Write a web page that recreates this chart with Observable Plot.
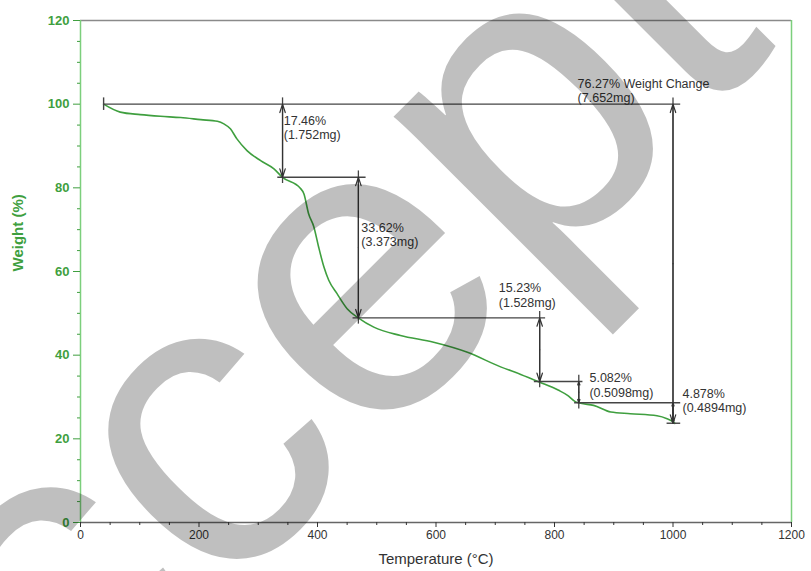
<!DOCTYPE html>
<html><head><meta charset="utf-8">
<script src="https://cdn.jsdelivr.net/npm/d3@7"></script>
<script src="https://cdn.jsdelivr.net/npm/@observablehq/plot@0.6"></script>
<style>
body{margin:0;background:#fff;}
#chart{width:811px;height:571px;overflow:hidden;}
</style></head><body><div id="chart"></div>
<script>
// TGA curve readings
const temperature = [39, 67, 101, 135, 169, 203, 231, 242, 253, 264, 281, 304, 326, 341, 371, 377, 385, 394, 402, 411, 419, 433, 450, 470, 495, 540, 596, 653, 709, 743, 774, 807, 822, 835, 844, 866, 895, 928, 973, 990, 1001, 1003];
const weight = [100, 98.1, 97.5, 97.1, 96.8, 96.3, 95.9, 95.3, 94.1, 91.7, 88.9, 86.5, 84.6, 82.5, 79.9, 78.6, 73.8, 70.6, 65.8, 61.0, 57.9, 54.7, 51.1, 48.8, 46.7, 44.7, 43.1, 40.7, 37.2, 35.4, 33.6, 31.6, 30.4, 28.9, 28.5, 28.0, 26.4, 26.0, 25.5, 24.8, 24.0, 23.7];

// horizontal guide lines
const guideLevel = [100, 82.54, 48.92, 33.69, 28.61, 23.73];
const guideStart = [39, 333, 460, 766, 834, 990];
const guideEnd = [1013, 482, 785, 848, 1013, 1013];

// vertical double arrows
const arrowTemp = [341, 469, 775, 841, 1000, 1000];
const arrowTop = [100, 82.54, 48.92, 33.69, 100, 28.61];
const arrowBottom = [82.54, 48.92, 33.69, 28.61, 23.73, 23.73];

// annotation labels
const labelTemp = [343, 474, 706, 859, 1016, 839];
const labelLevel = [94.4, 68.9, 54.4, 32.9, 29.2, 103.3];
const labelText = ["17.46%\n(1.752mg)", "33.62%\n(3.373mg)", "15.23%\n(1.528mg)", "5.082%\n(0.5098mg)", "4.878%\n(0.4894mg)", "76.27% Weight Change\n(7.652mg)"];

const xTicks = [0, 200, 400, 600, 800, 1000, 1200];
const yTicks = [0, 20, 40, 60, 80, 100, 120];
const xTitle = "Temperature (°C)";
const yTitle = "Weight (%)";
const watermark = "Accepted";

const curve = temperature.map((t, i) => ({t, w: weight[i]}));
const guides = guideLevel.map((v, i) => ({v, a: guideStart[i], b: guideEnd[i]}));
const arrows = arrowTemp.map((t, i) => ({t, top: arrowTop[i], bot: arrowBottom[i], mid: (arrowTop[i] + arrowBottom[i]) / 2}));
const labels = labelText.map((s, i) => ({s, t: labelTemp[i], v: labelLevel[i]}));
const minorX = d3.range(50, 1200, 50).filter(d => d % 200 !== 0);
const minorY = d3.range(5, 120, 5).filter(d => d % 20 !== 0);
const ext = 1.5; // extension of vertical arrow lines past the guides (data units)

const GREEN = "#3f9f3f", GREEN_LIGHT = "#7ccf7c", INK = "#333";

const svg = Plot.plot({
  width: 811, height: 571,
  marginLeft: 80, marginRight: 20, marginTop: 20, marginBottom: 49,
  style: {fontFamily: "'Liberation Sans', Arial, sans-serif", background: "#fff"},
  x: {domain: [0, 1200]},
  y: {domain: [0, 120]},
  marks: [
    // frame lines
    Plot.ruleY([120], {stroke: "#8a8a8a", strokeWidth: 1.5}),
    Plot.ruleX([1200], {stroke: GREEN_LIGHT, strokeWidth: 1.5}),
    Plot.ruleX([0], {stroke: GREEN_LIGHT, strokeWidth: 1.5}),
    Plot.ruleY([0], {stroke: "#666", strokeWidth: 1.5}),
    // axes
    Plot.axisY(yTicks, {tickSize: 7, tickPadding: 4, fontSize: 13, fontWeight: "bold", color: GREEN, label: null, tickFormat: d => String(d)}),
    Plot.axisY(minorY, {tickSize: 3, tickFormat: () => "", color: GREEN, label: null}),
    Plot.axisX(xTicks, {tickSize: 5, tickPadding: 3, fontSize: 12, color: INK, label: null, tickFormat: d => String(d)}),
    Plot.axisX(minorX, {tickSize: 3, tickFormat: () => "", color: INK, label: null}),
    Plot.text([yTitle], {frameAnchor: "left", dx: -62, rotate: -90, fontSize: 15, fontWeight: "bold", fill: GREEN}),
    Plot.text([xTitle], {frameAnchor: "bottom", dy: 41, fontSize: 15, fill: INK}),
    // TGA curve
    Plot.line(curve, {x: "t", y: "w", stroke: GREEN, strokeWidth: 1.6, curve: "monotone-x"}),
    // guides
    Plot.ruleY(guides, {y: "v", x1: "a", x2: "b", stroke: "#444", strokeWidth: 1.4}),
    Plot.ruleX([39], {y1: 100 - ext, y2: 100 + ext, stroke: "#444", strokeWidth: 1.4}),
    Plot.ruleX(arrows.slice(0, 4), {x: "t", y1: d => d.bot - ext, y2: d => d.top + ext, stroke: "#444", strokeWidth: 1.3}),
    Plot.ruleX(arrows.slice(4), {x: "t", y1: "bot", y2: d => d.top + (d.top === 100 ? ext : 0), stroke: "#444", strokeWidth: 1.3}),
    Plot.arrow(arrows, {x1: "t", x2: "t", y1: "mid", y2: "top", stroke: "#333", strokeWidth: 1.2, headLength: 11, headAngle: 36}),
    Plot.arrow(arrows, {x1: "t", x2: "t", y1: "mid", y2: "bot", stroke: "#333", strokeWidth: 1.2, headLength: 11, headAngle: 36}),
    // labels
    Plot.text(labels, {x: "t", y: "v", text: "s", textAnchor: "start", lineAnchor: "middle", fontSize: 12.5, lineHeight: 1.15, fill: INK})
  ]
});

// watermark overlay
d3.select(svg).append("text")
  .attr("transform", "translate(-129,953) rotate(-45)")
  .attr("text-anchor", "start")
  .attr("font-size", 420)
  .attr("font-family", "'Liberation Sans', Arial, sans-serif")
  .attr("fill", "#000")
  .attr("fill-opacity", 0.25)
  .text(watermark);

document.getElementById("chart").appendChild(svg);
</script></body></html>
